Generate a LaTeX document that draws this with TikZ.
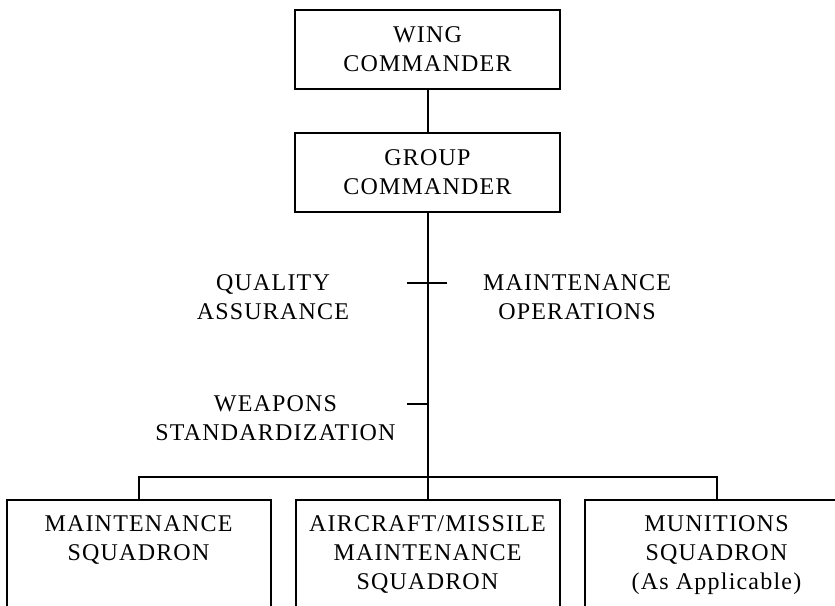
\documentclass[tikz,border=0pt]{standalone}
\usepackage{fontspec}
\setmainfont[LetterSpace=5]{Liberation Serif}
\usetikzlibrary{positioning}

\begin{document}
\begin{tikzpicture}[
      x=.5pt, y=.5pt,
      line width=1pt,
      every node/.style={font=\fontsize{12}{14.5}\selectfont},
      node distance=11.5pt,
      cmdbox/.style={draw, minimum width=132.5pt, minimum height=39.5pt, inner sep=0pt, align=center},
      sqbox/.style={draw, minimum width=132pt, minimum height=80pt, inner sep=0pt},
      sqtext/.style={align=center, inner sep=2pt},
      staff/.style={align=center, inner sep=0pt}
    ]
    \useasboundingbox (0,0) rectangle (835,605);
    \clip (0,0) rectangle (835,605);

    % command chain
    \node[cmdbox] (wing) at (427.5,555.5) {WING\\COMMANDER};
    \node[cmdbox, below=21pt of wing] (group) {GROUP\\COMMANDER};

    % staff functions
    \node[staff] (qa) at (273,307.5) {QUALITY\\ASSURANCE};
    \node[staff] (mo) at (577,307.5) {MAINTENANCE\\OPERATIONS};
    \node[staff] (ws) at (275.5,187) {WEAPONS\\STANDARDIZATION};

    % squadrons
    \node[sqbox, anchor=north] (amx) at (427.5,106) {};
    \node[sqbox, left=of amx] (mxs) {};
    \node[sqbox, right=of amx] (mus) {};
    \node[sqtext, below=6pt of mxs.north] (mxs text) {MAINTENANCE\\SQUADRON};
    \node[sqtext, below=6pt of amx.north] (amx text) {AIRCRAFT/MISSILE\\MAINTENANCE\\SQUADRON};
    \node[sqtext, below=6pt of mus.north] (mus text) {MUNITIONS\\SQUADRON\\(As Applicable)};

    % connectors
    \draw (wing) -- (group);
    \draw (group) -- (amx);
    \coordinate (bus) at (427.5,128);
    \draw (mxs.north) |- (bus) -| (mus.north);

    % staff ticks on the trunk
    \coordinate (qa tick) at (407,322);
    \coordinate (mo tick) at (447,322);
    \draw (qa tick) -- (mo tick);
    \coordinate (ws tick) at (407,201);
    \draw (ws tick) -- (ws tick -| group);

\end{tikzpicture}
\end{document}
